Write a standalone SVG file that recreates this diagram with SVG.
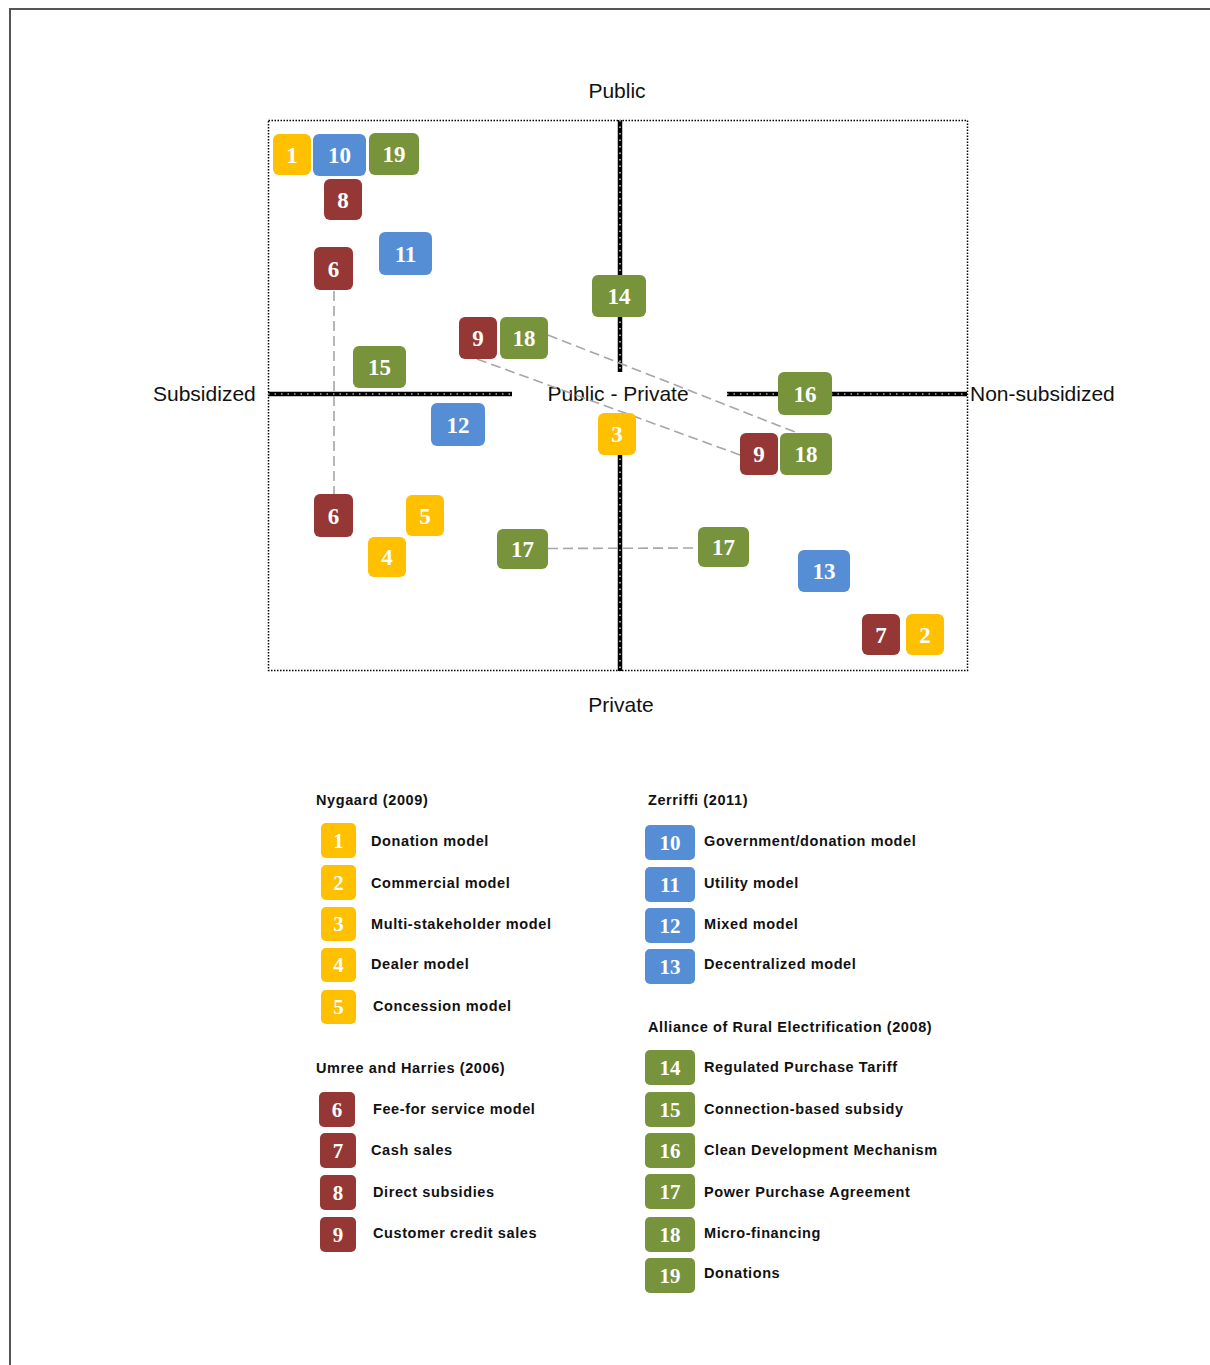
<svg xmlns="http://www.w3.org/2000/svg" width="1210" height="1365" viewBox="0 0 1210 1365">
<style>
.y{fill:#FFC000}.bl{fill:#558ED5}.g{fill:#77933C}.r{fill:#953735}
.n{font-family:"Liberation Serif",serif;font-weight:bold;font-size:23px;fill:#fff;text-anchor:middle}
.ln{font-family:"Liberation Serif",serif;font-weight:bold;font-size:21px;fill:#fff;text-anchor:middle}
.lab{font-family:"Liberation Sans",Arial,sans-serif;font-size:21px;fill:#111}
.lt{font-family:"Liberation Sans",Arial,sans-serif;font-weight:bold;font-size:14.5px;letter-spacing:0.6px;fill:#111}
.ax{stroke:#000;stroke-width:4.5;fill:none}
.axh{stroke:#fff;stroke-width:1.2;stroke-dasharray:1.5 5;fill:none}
.dash{stroke:#A6A6A6;stroke-width:1.6;stroke-dasharray:10 5;fill:none}
</style>
<rect width="1210" height="1365" fill="#fff"/>
<path d="M10,1365 V9 H1210" fill="none" stroke="#555" stroke-width="2"/>
<rect x="268.5" y="120.5" width="699" height="550" fill="none" stroke="#000" stroke-width="1.5" stroke-dasharray="1.5 1.5"/>
<g id="axes">
<path class="ax" d="M620,120 V372 M620,413 V671 M268,394 H512 M727,394 H967"/>
<path class="axh" d="M620,120 V372 M620,413 V671 M268,394 H512 M727,394 H967"/>
</g>
<g id="axis-labels">
<text class="lab" x="617" y="98" text-anchor="middle">Public</text>
<text class="lab" x="621" y="712" text-anchor="middle">Private</text>
<text class="lab" x="153" y="401">Subsidized</text>
<text class="lab" x="970" y="401">Non-subsidized</text>
<text class="lab" x="618" y="401" text-anchor="middle">Public - Private</text>
</g>
<g id="connectors">
<line class="dash" x1="334" y1="291" x2="334" y2="494"/>
<line class="dash" x1="548" y1="335" x2="795" y2="432"/>
<line class="dash" x1="477" y1="359" x2="740" y2="455"/>
<line class="dash" x1="548" y1="548.5" x2="698" y2="548"/>
</g>
<g id="n1"><rect class="y" x="273" y="134" width="38" height="41" rx="6"/><text class="n" x="292" y="163">1</text></g>
<g id="n10"><rect class="bl" x="313" y="134" width="53" height="42" rx="6"/><text class="n" x="339.5" y="163">10</text></g>
<g id="n19"><rect class="g" x="369" y="133" width="50" height="42" rx="6"/><text class="n" x="394" y="162">19</text></g>
<g id="n8"><rect class="r" x="324" y="179" width="38" height="41" rx="6"/><text class="n" x="343" y="208">8</text></g>
<g id="n6a"><rect class="r" x="314" y="247" width="39" height="43" rx="6"/><text class="n" x="333.5" y="277">6</text></g>
<g id="n11"><rect class="bl" x="379" y="232" width="53" height="43" rx="6"/><text class="n" x="405.5" y="262">11</text></g>
<g id="n14"><rect class="g" x="592" y="275" width="54" height="42" rx="6"/><text class="n" x="619" y="304">14</text></g>
<g id="n9a"><rect class="r" x="459" y="317" width="38" height="42" rx="6"/><text class="n" x="478" y="346">9</text></g>
<g id="n18a"><rect class="g" x="500" y="317" width="48" height="42" rx="6"/><text class="n" x="524" y="346">18</text></g>
<g id="n15"><rect class="g" x="353" y="346" width="53" height="42" rx="6"/><text class="n" x="379.5" y="375">15</text></g>
<g id="n16"><rect class="g" x="778" y="372" width="54" height="43" rx="6"/><text class="n" x="805" y="402">16</text></g>
<g id="n12"><rect class="bl" x="431" y="403" width="54" height="43" rx="6"/><text class="n" x="458" y="433">12</text></g>
<g id="n3"><rect class="y" x="598" y="413" width="38" height="42" rx="6"/><text class="n" x="617" y="442">3</text></g>
<g id="n9b"><rect class="r" x="740" y="433" width="38" height="42" rx="6"/><text class="n" x="759" y="462">9</text></g>
<g id="n18b"><rect class="g" x="780" y="433" width="52" height="42" rx="6"/><text class="n" x="806" y="462">18</text></g>
<g id="n6b"><rect class="r" x="314" y="494" width="39" height="43" rx="6"/><text class="n" x="333.5" y="524">6</text></g>
<g id="n5"><rect class="y" x="406" y="495" width="38" height="41" rx="6"/><text class="n" x="425" y="524">5</text></g>
<g id="n4"><rect class="y" x="368" y="537" width="38" height="40" rx="6"/><text class="n" x="387" y="565">4</text></g>
<g id="n17a"><rect class="g" x="497" y="529" width="51" height="40" rx="6"/><text class="n" x="522.5" y="557">17</text></g>
<g id="n17b"><rect class="g" x="698" y="527" width="51" height="40" rx="6"/><text class="n" x="723.5" y="555">17</text></g>
<g id="n13"><rect class="bl" x="798" y="550" width="52" height="42" rx="6"/><text class="n" x="824" y="579">13</text></g>
<g id="n7"><rect class="r" x="862" y="614" width="38" height="41" rx="6"/><text class="n" x="881" y="643">7</text></g>
<g id="n2"><rect class="y" x="906" y="614" width="38" height="41" rx="6"/><text class="n" x="925" y="643">2</text></g>
<g id="legend">
<text class="lt" x="316" y="805">Nygaard (2009)</text>
<g id="l1"><rect class="y" x="321" y="823" width="35" height="35" rx="5"/><text class="ln" x="338.5" y="848">1</text><text class="lt" x="371" y="846">Donation model</text></g>
<g id="l2"><rect class="y" x="321" y="865" width="35" height="35" rx="5"/><text class="ln" x="338.5" y="890">2</text><text class="lt" x="371" y="888">Commercial model</text></g>
<g id="l3"><rect class="y" x="321" y="907" width="35" height="34" rx="5"/><text class="ln" x="338.5" y="931">3</text><text class="lt" x="371" y="929">Multi-stakeholder model</text></g>
<g id="l4"><rect class="y" x="321" y="948" width="35" height="34" rx="5"/><text class="ln" x="338.5" y="972">4</text><text class="lt" x="371" y="969">Dealer model</text></g>
<g id="l5"><rect class="y" x="321" y="990" width="35" height="34" rx="5"/><text class="ln" x="338.5" y="1014">5</text><text class="lt" x="373" y="1011">Concession model</text></g>
<text class="lt" x="316" y="1073">Umree and Harries (2006)</text>
<g id="l6"><rect class="r" x="319" y="1092" width="36" height="35" rx="5"/><text class="ln" x="337" y="1117">6</text><text class="lt" x="373" y="1114">Fee-for service model</text></g>
<g id="l7"><rect class="r" x="320" y="1133" width="36" height="35" rx="5"/><text class="ln" x="338" y="1158">7</text><text class="lt" x="371" y="1155">Cash sales</text></g>
<g id="l8"><rect class="r" x="320" y="1175" width="36" height="35" rx="5"/><text class="ln" x="338" y="1200">8</text><text class="lt" x="373" y="1197">Direct subsidies</text></g>
<g id="l9"><rect class="r" x="320" y="1217" width="36" height="35" rx="5"/><text class="ln" x="338" y="1242">9</text><text class="lt" x="373" y="1238">Customer credit sales</text></g>
<text class="lt" x="648" y="805">Zerriffi (2011)</text>
<g id="l10"><rect class="bl" x="645" y="825" width="50" height="35" rx="5"/><text class="ln" x="670" y="850">10</text><text class="lt" x="704" y="846">Government/donation model</text></g>
<g id="l11"><rect class="bl" x="645" y="867" width="50" height="35" rx="5"/><text class="ln" x="670" y="892">11</text><text class="lt" x="704" y="888">Utility model</text></g>
<g id="l12"><rect class="bl" x="645" y="908" width="50" height="35" rx="5"/><text class="ln" x="670" y="933">12</text><text class="lt" x="704" y="929">Mixed model</text></g>
<g id="l13"><rect class="bl" x="645" y="949" width="50" height="35" rx="5"/><text class="ln" x="670" y="974">13</text><text class="lt" x="704" y="969">Decentralized model</text></g>
<text class="lt" x="648" y="1032">Alliance of Rural Electrification (2008)</text>
<g id="l14"><rect class="g" x="645" y="1050" width="50" height="35" rx="5"/><text class="ln" x="670" y="1075">14</text><text class="lt" x="704" y="1072">Regulated Purchase Tariff</text></g>
<g id="l15"><rect class="g" x="645" y="1092" width="50" height="35" rx="5"/><text class="ln" x="670" y="1117">15</text><text class="lt" x="704" y="1114">Connection-based subsidy</text></g>
<g id="l16"><rect class="g" x="645" y="1133" width="50" height="35" rx="5"/><text class="ln" x="670" y="1158">16</text><text class="lt" x="704" y="1155">Clean Development Mechanism</text></g>
<g id="l17"><rect class="g" x="645" y="1174" width="50" height="35" rx="5"/><text class="ln" x="670" y="1199">17</text><text class="lt" x="704" y="1197">Power Purchase Agreement</text></g>
<g id="l18"><rect class="g" x="645" y="1217" width="50" height="35" rx="5"/><text class="ln" x="670" y="1242">18</text><text class="lt" x="704" y="1238">Micro-financing</text></g>
<g id="l19"><rect class="g" x="645" y="1258" width="50" height="35" rx="5"/><text class="ln" x="670" y="1283">19</text><text class="lt" x="704" y="1278">Donations</text></g>
</g>
</svg>
